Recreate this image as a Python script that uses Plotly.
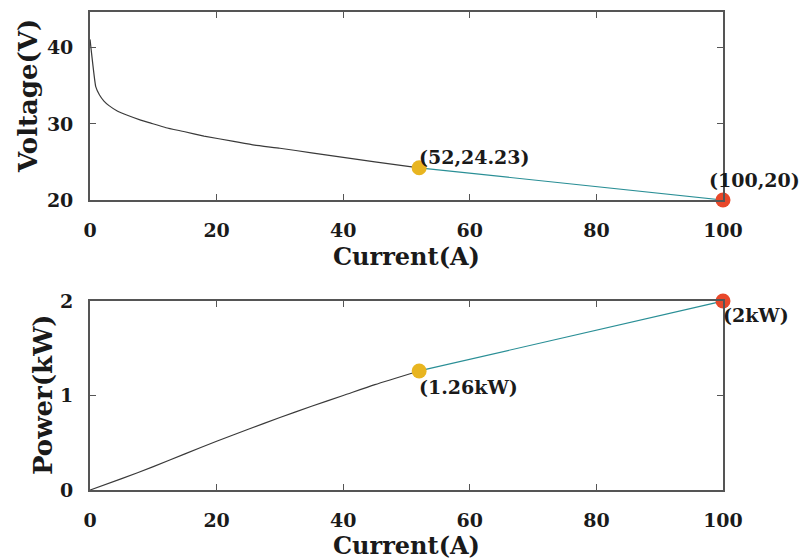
import plotly.graph_objects as go

# Voltage curve (dark part up to the operating point)
v_current = [0, 0.9, 1.5, 2.2, 3, 4.3, 6, 8, 9.6, 12, 14.8, 18, 22.7, 26, 30, 35, 40, 45, 52]
v_values = [41.1, 34.9, 33.8, 33.0, 32.4, 31.7, 31.1, 30.5, 30.1, 29.5, 29.0, 28.4, 27.7, 27.2, 26.8, 26.2, 25.6, 25.0, 24.23]

# Power curve (dark part up to the operating point)
p_current = [0, 5, 10, 15, 20, 25, 30, 35, 40, 45, 52]
p_values = [0, 0.12, 0.247, 0.383, 0.516, 0.643, 0.767, 0.886, 1.0, 1.115, 1.26]

# Teal segment from operating point to maximum
seg_current = [52, 100]
seg_voltage = [24.23, 20]
seg_power = [1.26, 2.0]

# Marked points
mid_pt = dict(i=52, v=24.23, p=1.26)
max_pt = dict(i=100, v=20, p=2.0)

x_ticks = [0, 20, 40, 60, 80, 100]
v_ticks = [20, 30, 40]
p_ticks = [0, 1, 2]

FONT = "DejaVu Serif"
AX = "#555555"
DARK = "#3a3a3a"
TEAL = "#2a8f96"
GOLD = "#e8b520"
RED = "#e8482a"
TXT = "#1a1a1a"

fig = go.Figure()
fig.add_trace(go.Scatter(x=v_current, y=v_values, mode="lines", line=dict(color=DARK, width=1.2, shape="spline", smoothing=0.35), xaxis="x", yaxis="y"))
fig.add_trace(go.Scatter(x=seg_current, y=seg_voltage, mode="lines", line=dict(color=TEAL, width=1.2), xaxis="x", yaxis="y"))
fig.add_trace(go.Scatter(x=[mid_pt["i"]], y=[mid_pt["v"]], mode="markers", marker=dict(color=GOLD, size=15), xaxis="x", yaxis="y", cliponaxis=False))
fig.add_trace(go.Scatter(x=[max_pt["i"]], y=[max_pt["v"]], mode="markers", marker=dict(color=RED, size=15), xaxis="x", yaxis="y", cliponaxis=False))

fig.add_trace(go.Scatter(x=p_current, y=p_values, mode="lines", line=dict(color=DARK, width=1.2, shape="spline", smoothing=0.6), xaxis="x2", yaxis="y2"))
fig.add_trace(go.Scatter(x=seg_current, y=seg_power, mode="lines", line=dict(color=TEAL, width=1.2), xaxis="x2", yaxis="y2"))
fig.add_trace(go.Scatter(x=[mid_pt["i"]], y=[mid_pt["p"]], mode="markers", marker=dict(color=GOLD, size=15), xaxis="x2", yaxis="y2", cliponaxis=False))
fig.add_trace(go.Scatter(x=[max_pt["i"]], y=[max_pt["p"]], mode="markers", marker=dict(color=RED, size=15), xaxis="x2", yaxis="y2", cliponaxis=False))

tickfont = dict(family=FONT, size=19, color=TXT, weight="bold")

def xax(anchor):
    return dict(domain=[0.1124, 0.9026], range=[0, 100], tickvals=x_ticks, anchor=anchor,
                showline=True, linecolor=AX, linewidth=1.8, mirror="ticks", ticks="inside",
                ticklen=6, tickcolor=AX, tickwidth=1.2, showgrid=False, zeroline=False,
                tickfont=tickfont, ticklabelstandoff=12, automargin=False)

def yax(anchor, domain, rng, ticks):
    return dict(domain=domain, range=rng, tickvals=ticks, anchor=anchor,
                showline=True, linecolor=AX, linewidth=1.8, mirror="ticks", ticks="inside",
                ticklen=6, tickcolor=AX, tickwidth=1.2, showgrid=False, zeroline=False,
                tickfont=tickfont, ticklabelstandoff=11, automargin=False)

fig.update_layout(
    width=801, height=559,
    margin=dict(l=0, r=0, t=0, b=0, autoexpand=False),
    paper_bgcolor="white", plot_bgcolor="white",
    showlegend=False,
    font=dict(family=FONT),
    xaxis=xax("y"),
    yaxis=yax("x", [0.6422, 0.9785], [20, 44.7], v_ticks),
    xaxis2=xax("y2"),
    yaxis2=yax("x2", [0.1234, 0.4615], [0, 2], p_ticks),
)

titlefont = dict(family=FONT, size=24, color=TXT, weight="bold")
fig.add_annotation(x=0.507, y=1 - 256 / 559, xref="paper", yref="paper", text="Current(A)",
                   showarrow=False, xanchor="center", yanchor="middle", font=titlefont)
fig.add_annotation(x=0.507, y=1 - 545 / 559, xref="paper", yref="paper", text="Current(A)",
                   showarrow=False, xanchor="center", yanchor="middle", font=titlefont)
fig.add_annotation(x=28 / 801, y=1 - 96 / 559, xref="paper", yref="paper", text="Voltage(V)",
                   showarrow=False, xanchor="center", yanchor="middle", textangle=-90,
                   font=dict(family=FONT, size=26, color=TXT, weight="bold"))
fig.add_annotation(x=43 / 801, y=1 - 395 / 559, xref="paper", yref="paper", text="Power(kW)",
                   showarrow=False, xanchor="center", yanchor="middle", textangle=-90,
                   font=dict(family=FONT, size=26, color=TXT, weight="bold"))

annfont = dict(family=FONT, size=19, color=TXT, weight="bold")
fig.add_annotation(x=mid_pt["i"], y=mid_pt["v"], xref="x", yref="y", text="(52,24.23)",
                   showarrow=False, xanchor="left", yanchor="middle", xshift=-2, yshift=11, font=annfont)
fig.add_annotation(x=max_pt["i"], y=max_pt["v"], xref="x", yref="y", text="(100,20)",
                   showarrow=False, xanchor="left", yanchor="middle", xshift=-16, yshift=20, font=annfont)
fig.add_annotation(x=mid_pt["i"], y=mid_pt["p"], xref="x2", yref="y2", text="(1.26kW)",
                   showarrow=False, xanchor="left", yanchor="middle", xshift=-2, yshift=-16, font=annfont)
fig.add_annotation(x=max_pt["i"], y=max_pt["p"], xref="x2", yref="y2", text="(2kW)",
                   showarrow=False, xanchor="left", yanchor="middle", xshift=-2, yshift=-14, font=annfont)

fig.write_html("out.html")
